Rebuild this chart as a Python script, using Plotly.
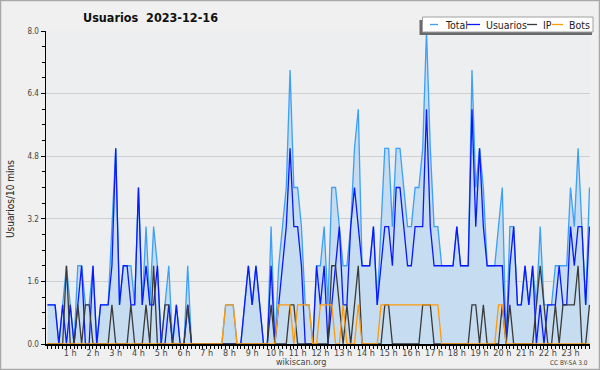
import plotly.graph_objects as go

# ---------------- data (one value per 10-minute slot, 00:00 .. 23:50) ----------------
hour_labels = [f"{h} h" for h in range(1, 24)]

total = [1, 1, 1, 0, 1, 2, 1, 0, 2, 2, 1, 1, 2, 0, 1, 1, 1, 3, 5, 1,
         2, 2, 2, 1, 4, 1, 3, 1, 3, 2, 0, 1, 2, 0, 1, 0, 0, 2, 0, 0,
         0, 0, 0, 0, 0, 0, 0, 1, 1, 1, 0, 0, 1, 2, 1, 2, 1, 0, 0, 3,
         0, 2, 3, 4, 7, 4, 4, 3, 1, 1, 0, 2, 2, 3, 1, 4, 4, 3, 2, 2,
         3, 5, 6, 2, 2, 2, 3, 1, 3, 5, 5, 3, 5, 5, 4, 3, 3, 4, 4, 5,
         8, 5, 3, 3, 2, 2, 2, 2, 3, 2, 2, 2, 7, 4, 5, 4, 2, 2, 2, 3,
         4, 0, 3, 3, 1, 1, 2, 1, 2, 1, 3, 1, 1, 1, 2, 2, 2, 2, 4, 3,
         5, 3, 1, 4]
usuarios = [1, 1, 1, 0, 1, 0, 1, 0, 1, 2, 0, 0, 2, 0, 1, 1, 1, 2, 5, 1,
            2, 2, 1, 1, 4, 1, 2, 1, 1, 2, 0, 0, 1, 0, 1, 0, 0, 1, 0, 0,
            0, 0, 0, 0, 0, 0, 0, 0, 0, 0, 0, 0, 1, 2, 1, 2, 1, 0, 0, 2,
            0, 1, 2, 3, 5, 3, 3, 2, 0, 0, 0, 2, 1, 2, 0, 1, 2, 3, 1, 1,
            3, 4, 3, 2, 2, 2, 3, 1, 2, 3, 3, 2, 4, 4, 3, 2, 2, 3, 3, 3,
            6, 3, 2, 2, 2, 2, 2, 2, 3, 2, 2, 2, 6, 3, 5, 3, 2, 2, 2, 2,
            2, 0, 2, 3, 1, 1, 2, 1, 2, 0, 1, 0, 1, 1, 1, 2, 1, 1, 3, 2,
            3, 3, 1, 3]
ip = [0, 0, 0, 0, 0, 2, 0, 0, 1, 0, 1, 1, 0, 0, 0, 0, 0, 1, 0, 0,
      0, 0, 1, 0, 0, 0, 1, 0, 2, 0, 0, 1, 1, 0, 0, 0, 0, 1, 0, 0,
      0, 0, 0, 0, 0, 0, 0, 0, 0, 0, 0, 0, 0, 0, 0, 0, 0, 0, 0, 1,
      0, 0, 0, 0, 1, 1, 0, 0, 0, 0, 0, 0, 0, 0, 0, 2, 2, 1, 0, 1,
      0, 1, 2, 0, 0, 0, 0, 0, 0, 1, 1, 0, 0, 0, 0, 0, 0, 0, 0, 1,
      1, 1, 0, 0, 0, 0, 0, 0, 0, 0, 0, 0, 1, 1, 0, 1, 0, 0, 0, 0,
      1, 0, 1, 0, 0, 0, 0, 0, 0, 1, 2, 1, 0, 0, 1, 0, 1, 1, 1, 1,
      2, 0, 0, 1]
bots = [0, 0, 0, 0, 0, 0, 0, 0, 0, 0, 0, 0, 0, 0, 0, 0, 0, 0, 0, 0,
        0, 0, 0, 0, 0, 0, 0, 0, 0, 0, 0, 0, 0, 0, 0, 0, 0, 0, 0, 0,
        0, 0, 0, 0, 0, 0, 0, 1, 1, 1, 0, 0, 0, 0, 0, 0, 0, 0, 0, 0,
        0, 1, 1, 1, 1, 0, 1, 1, 1, 1, 0, 0, 1, 1, 1, 1, 0, 0, 1, 0,
        0, 0, 1, 0, 0, 0, 0, 0, 1, 1, 1, 1, 1, 1, 1, 1, 1, 1, 1, 1,
        1, 1, 1, 1, 0, 0, 0, 0, 0, 0, 0, 0, 0, 0, 0, 0, 0, 0, 0, 1,
        1, 0, 0, 0, 0, 0, 0, 0, 0, 0, 0, 0, 0, 0, 0, 0, 0, 0, 0, 0,
        0, 0, 0, 0]
slots = list(range(len(total)))
y_ticks = [0.0, 1.6, 3.2, 4.8, 6.4, 8.0]

# ---------------- layout helpers ----------------
W, H = 600, 370
L, R, T, B = 46, 590, 31, 344


def px(x):
    return (x - L) / (R - L)


def py(y):
    return (B - y) / (B - T)


FONT = "DejaVu Sans Condensed, DejaVu Sans, sans-serif"
C_TOTAL = "#3d9ff7"
C_USERS = "#0a18ff"
C_IP = "#3a3a3a"
C_BOTS = "#ff9a0a"

fig = go.Figure()
fig.add_trace(go.Scatter(x=slots, y=total, mode="lines", name="Total",
                         line=dict(color=C_TOTAL, width=1.3),
                         fill="tozeroy", fillcolor="#c6dcf0"))
fig.add_trace(go.Scatter(x=slots, y=usuarios, mode="lines", name="Usuarios",
                         line=dict(color=C_USERS, width=1.3)))
fig.add_trace(go.Scatter(x=slots, y=ip, mode="lines", name="IP",
                         line=dict(color=C_IP, width=1.3)))
fig.add_trace(go.Scatter(x=slots, y=bots, mode="lines", name="Bots",
                         line=dict(color=C_BOTS, width=1.3)))

ticktext = [hour_labels[i // 6 - 1] if (i % 6 == 0 and i > 0) else "" for i in slots]

step = 3.79
x_lo = -(47.5 - L) / step
x_hi = x_lo + (R - L) / step

fig.update_layout(
    width=W, height=H,
    margin=dict(l=L, r=W - R, t=T, b=H - B),
    paper_bgcolor="#f0f0f0",
    plot_bgcolor="#eceef0",
    showlegend=False,
    hovermode=False,
    font=dict(family=FONT, size=9, color="#333"),
    xaxis=dict(range=[x_lo, x_hi], tickvals=slots, ticktext=ticktext,
               ticks="outside", ticklen=3, tickwidth=1, tickcolor="#000",
               ticklabelstandoff=-3,
               showline=True, linecolor="#000", linewidth=1.5,
               showgrid=False, zeroline=False,
               tickfont=dict(family=FONT, size=9, color="#444")),
    yaxis=dict(range=[0, 8], tickvals=y_ticks,
               ticktext=[f"{v:.1f}" for v in y_ticks],
               ticks="outside", ticklen=4, tickwidth=1, tickcolor="#000",
               showline=True, linecolor="#000", linewidth=1.5,
               showgrid=True, gridcolor="#cfcfcf", gridwidth=1,
               zeroline=False,
               minor=dict(tickvals=[round(0.4 * k, 1) for k in range(21)],
                          ticks="outside", ticklen=3, tickcolor="#000",
                          showgrid=False),
               tickfont=dict(family=FONT, size=8, color="#444")),
)

shapes = [
    # outer frame
    dict(type="rect", xref="paper", yref="paper", layer="above",
         x0=px(0.5), x1=px(599.5), y0=py(369.5), y1=py(0.5),
         line=dict(color="#a8a8a8", width=1.5)),
    # legend shadow
    dict(type="rect", xref="paper", yref="paper", layer="above",
         x0=px(419.5), x1=px(592), y0=py(35), y1=py(20),
         fillcolor="#6a6a6a", line=dict(width=0)),
    # legend box
    dict(type="rect", xref="paper", yref="paper", layer="above",
         x0=px(422.5), x1=px(593), y0=py(32), y1=py(17),
         fillcolor="#ffffff", line=dict(color="#a0a0a0", width=1)),
]
legend_items = [("Total", C_TOTAL, 430, 438, 443),
                ("Usuarios", C_USERS, 467, 480, 484),
                ("IP", C_IP, 527, 537, 541),
                ("Bots", C_BOTS, 552, 563, 567)]
annotations = []
for name, col, lx0, lx1, tx in legend_items:
    shapes.append(dict(type="line", xref="paper", yref="paper", layer="above",
                       x0=px(lx0), x1=px(lx1), y0=py(24.5), y1=py(24.5),
                       line=dict(color=col, width=1.3)))
    annotations.append(dict(xref="paper", yref="paper", x=px(tx), y=py(24.5),
                            text=name, showarrow=False, xanchor="left",
                            yanchor="middle",
                            font=dict(family=FONT, size=10.5, color="#222")))

annotations += [
    dict(xref="paper", yref="paper", x=px(150.5), y=py(17), text="<b>Usuarios  2023-12-16</b>",
         showarrow=False, xanchor="center", yanchor="middle",
         font=dict(family=FONT, size=12.5, color="#111")),
    dict(xref="paper", yref="paper", x=px(10), y=py(199), text="Usuarios/10 mins",
         textangle=-90, showarrow=False, xanchor="center", yanchor="middle",
         font=dict(family=FONT, size=10, color="#222")),
    dict(xref="paper", yref="paper", x=px(301), y=py(362), text="wikiscan.org",
         showarrow=False, xanchor="center", yanchor="middle",
         font=dict(family=FONT, size=9, color="#444")),
    dict(xref="paper", yref="paper", x=px(590), y=py(363), text="CC BY-SA 3.0",
         showarrow=False, xanchor="right", yanchor="middle",
         font=dict(family=FONT, size=6.5, color="#444")),
]

fig.update_layout(shapes=shapes, annotations=annotations)
fig.write_html("out.html", post_script="document.body.style.margin='0';",
               config={"displayModeBar": False, "staticPlot": True})
